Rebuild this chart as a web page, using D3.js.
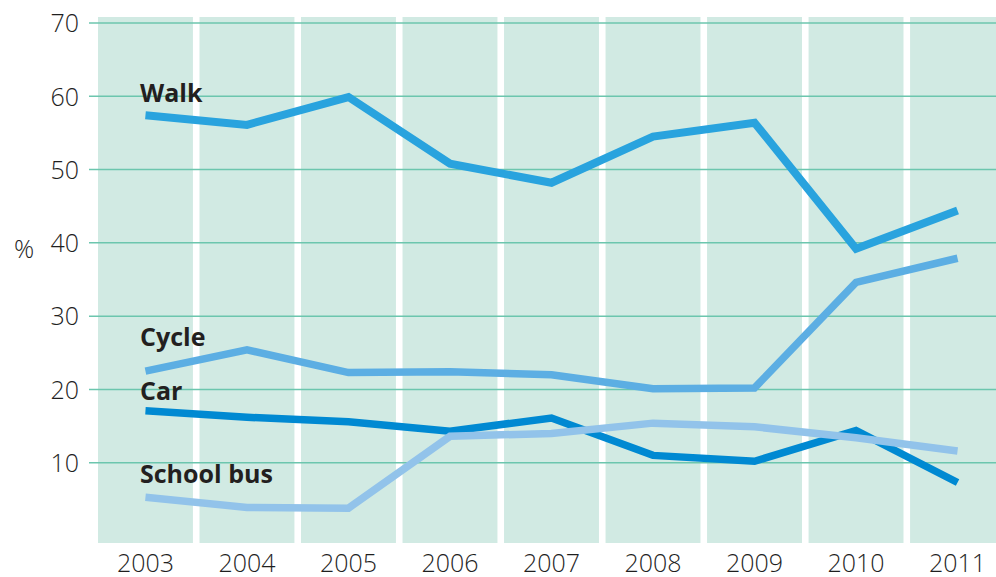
<!DOCTYPE html>
<html>
<head>
<meta charset="utf-8">
<script src="https://cdn.jsdelivr.net/npm/d3@7"></script>
<style>
  html, body { margin: 0; padding: 0; background: #fff; }
  svg { display: block; }
  text { font-family: "Open Sans", "DejaVu Sans", sans-serif; }
</style>
</head>
<body>
<svg id="chart" width="996" height="577"></svg>
<script>
// ---- data ----
const years = ["2003","2004","2005","2006","2007","2008","2009","2010","2011"];
const walk = [57.4, 56.1, 59.9, 50.8, 48.2, 54.5, 56.4, 39.2, 44.4];
const cycle = [22.5, 25.4, 22.3, 22.4, 22.0, 20.1, 20.2, 34.6, 37.9];
const car = [17.1, 16.2, 15.6, 14.3, 16.1, 11.0, 10.2, 14.4, 7.3];
const schoolBus = [5.3, 3.9, 3.8, 13.6, 14.0, 15.4, 14.9, 13.4, 11.6];
const yTicks = [10, 20, 30, 40, 50, 60, 70];
const seriesNames = ["Walk", "Cycle", "Car", "School bus"];

// ---- layout ----
const svg = d3.select("#chart");
const x = d3.scaleBand().domain(years).range([98, 1005]).paddingInner(0.065).paddingOuter(0);
const y = d3.scaleLinear().domain([0, 70]).range([536, 23]);

const colBg = "#d1eae3";
const gridCol = "#6cc6ae";
const tickCol = "#1f1f1f";

// columns
svg.append("g").selectAll("rect").data(years).join("rect")
  .attr("x", d => x(d))
  .attr("width", x.bandwidth())
  .attr("y", y(70) - 6)
  .attr("height", (y(0) + 7) - (y(70) - 6))
  .attr("fill", colBg);

// gridlines
svg.append("g").selectAll("line").data(yTicks).join("line")
  .attr("x1", 89).attr("x2", 996)
  .attr("y1", d => y(d)).attr("y2", d => y(d))
  .attr("stroke", gridCol).attr("stroke-width", 1.5);

// y axis labels
const yAxis = d3.axisLeft(y).tickValues(yTicks).tickSize(0).tickPadding(0);
const gy = svg.append("g").attr("transform", "translate(79,0)").call(yAxis);
gy.select(".domain").remove();
gy.selectAll("text")
  .attr("font-family", '"Open Sans", sans-serif')
  .attr("font-size", 25)
  .attr("font-weight", 300)
  .attr("fill", tickCol)
  .attr("dy", "0.35em");

// x axis labels
const xAxis = d3.axisBottom(x).tickSize(0).tickPadding(0);
const gx = svg.append("g").attr("transform", "translate(0,549)").call(xAxis);
gx.select(".domain").remove();
gx.selectAll("text")
  .attr("font-family", '"Open Sans", sans-serif')
  .attr("font-size", 25)
  .attr("font-weight", 300)
  .attr("fill", tickCol)
  .attr("dy", "0.9em");

// % label
svg.append("text").attr("x", 24).attr("y", 258)
  .attr("text-anchor", "middle")
  .attr("font-weight", 300)
  .attr("font-size", 25).attr("fill", tickCol).text("%");

// lines
const series = [
  { name: seriesNames[0], values: walk, color: "#29a3de", width: 8 },
  { name: seriesNames[1], values: cycle, color: "#5caee3", width: 7.5 },
  { name: seriesNames[2], values: car, color: "#0089d2", width: 7.5 },
  { name: seriesNames[3], values: schoolBus, color: "#92c3ea", width: 7.5 }
];
const line = d3.line()
  .x((d, i) => x(years[i]) + x.bandwidth() / 2)
  .y(d => y(d));

// draw order: car below school bus
const order = [1, 2, 3, 0];
svg.append("g").selectAll("path").data(order.map(i => series[i])).join("path")
  .attr("d", d => line(d.values))
  .attr("fill", "none")
  .attr("stroke", d => d.color)
  .attr("stroke-width", d => d.width)
  .attr("stroke-linejoin", "miter")
  .attr("stroke-linecap", "butt");

// series labels
const labelOffsets = [13, 25, 11, 14];
svg.append("g").selectAll("text").data(series).join("text")
  .attr("x", 140)
  .attr("y", (d, i) => y(d.values[0]) - labelOffsets[i])
  .attr("font-size", 25)
  .attr("font-weight", "bold")
  .attr("fill", "#231f20")
  .text(d => d.name);
</script>
</body>
</html>
